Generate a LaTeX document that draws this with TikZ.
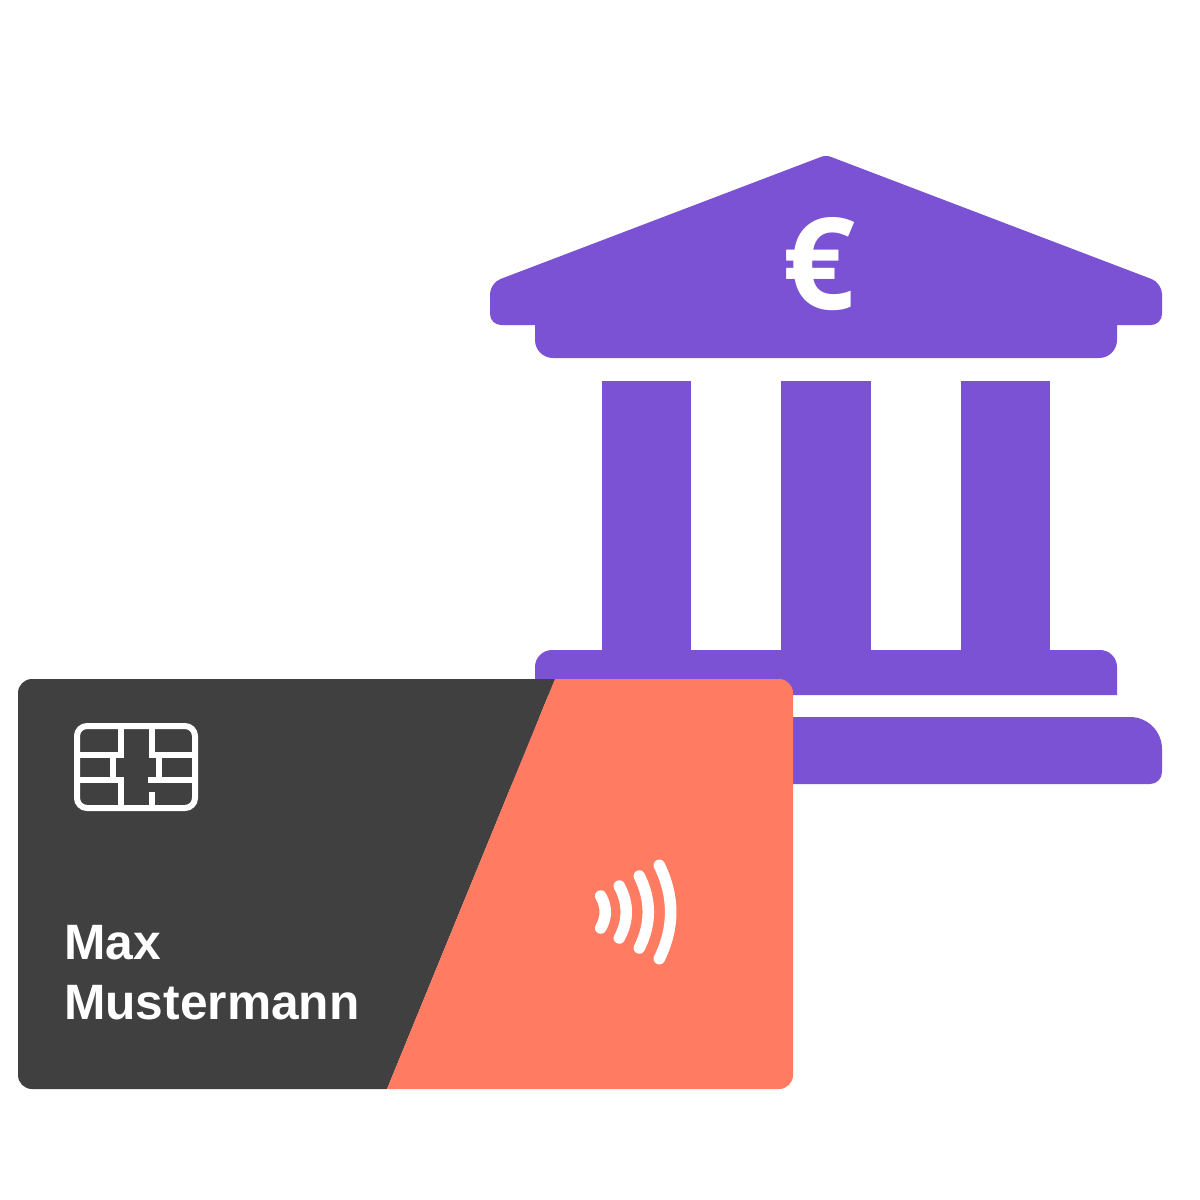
\documentclass[tikz,border=0pt]{standalone}
\usepackage{fontspec}
\usepackage{xcolor}
\setmainfont{Liberation Sans}
\newfontfamily\eurofont{Open Sans}
\definecolor{mypurple}{RGB}{122, 82, 211}
\definecolor{mycoral}{RGB}{255, 124, 98}
\definecolor{mydark}{RGB}{64, 64, 64}
\tikzset{
  chipline/.style={white,line width=6pt},
  waveline/.style={white,line width=11.5pt,line cap=round},
}
\begin{document}
\begin{tikzpicture}[x=1pt,y=-1pt]
  \useasboundingbox (0,0) rectangle (1200,1200);
  % bank
  \fill[mypurple](826,155)[rounded corners=11pt]--(1162,283)--(1162,325)[sharp corners]--(1117,325)[rounded corners=18pt]--(1117,358)--(535,358)[sharp corners]--(535,325)[rounded corners=11pt]--(490,325)--(490,283)[rounded corners=5pt]--cycle;
  \foreach \colx in {601.8,781,960.8}
    \fill[mypurple](\colx,381) rectangle +(89.6,269);
  \fill[mypurple](535,695)[rounded corners=17pt]--(535,650)--(1117,650)[sharp corners]--(1117,695)--cycle;
  \fill[mypurple](490,784)[rounded corners=32pt]--(490,717)--(1162,717)[rounded corners=12pt]--(1162,784)[sharp corners]--cycle;
  \node[white,font=\eurofont\bfseries\fontsize{128}{128}\selectfont,inner sep=0pt](euro) at (819,264){€};
  % card
  \fill[mydark](555,679)[rounded corners=14pt]--(18,679)--(18,1089)[sharp corners]--(387,1089)--cycle;
  \fill[mycoral](555,679)[rounded corners=14pt]--(793,679)--(793,1089)[sharp corners]--(387,1089)--cycle;
  % chip
  \draw[chipline,rounded corners=10pt](77,726) rectangle (195,808);
  \draw[chipline](120.7,726)--(120.7,754.5);
  \draw[chipline](77,754.5)--(123.7,754.5);
  \draw[chipline](113,754.5)--(113,779.7);
  \draw[chipline](77,779.7)--(123.7,779.7);
  \draw[chipline](120.7,779.7)--(120.7,808);
  \draw[chipline](151.7,726)--(151.7,754.5);
  \draw[chipline](148.7,754.5)--(195,754.5);
  \draw[chipline](159,754.5)--(159,779.7);
  \draw[chipline](148.3,779.7)--(195,779.7);
  \draw[chipline](151.7,791.7)--(151.7,808);
  % contactless
  \foreach \wavex/\wavetop/\wavebow in {600.7/896/606.8,619.3/886/628.6,639.3/876/651.3,659.3/865.3/674.5}
    \draw[waveline](\wavex,\wavetop) .. controls (\wavebow,{\wavetop+(912-\wavetop)*0.67}) and (\wavebow,{1824-\wavetop-(912-\wavetop)*0.67}) .. (\wavex,{1824-\wavetop});
  \node[white,font=\bfseries\fontsize{49.7}{60}\selectfont,align=left,inner sep=0pt,anchor=north west](holder) at (64,925){Max\\Mustermann};
\end{tikzpicture}
\end{document}
